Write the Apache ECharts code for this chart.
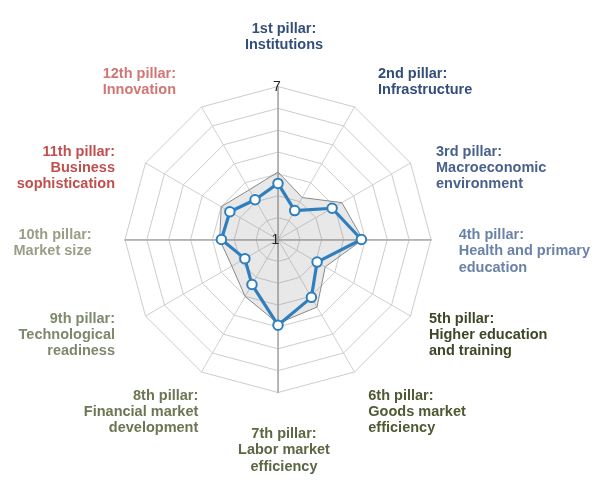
<!DOCTYPE html>
<html>
<head>
<meta charset="utf-8">
<script src="https://cdn.jsdelivr.net/npm/echarts@6/dist/echarts.min.js"></script>
<style>
html,body{margin:0;padding:0;background:#fff;}
#c{width:605px;height:484px;}
</style>
</head>
<body>
<div id="c"></div>
<script>
// ---- data ----
var categories = [
  "1st pillar:\nInstitutions",
  "2nd pillar:\nInfrastructure",
  "3rd pillar:\nMacroeconomic\nenvironment",
  "4th pillar:\nHealth and primary\neducation",
  "5th pillar:\nHigher education\nand training",
  "6th pillar:\nGoods market\nefficiency",
  "7th pillar:\nLabor market\nefficiency",
  "8th pillar:\nFinancial market\ndevelopment",
  "9th pillar:\nTechnological\nreadiness",
  "10th pillar:\nMarket size",
  "11th pillar:\nBusiness\nsophistication",
  "12th pillar:\nInnovation"
];
var countryValues   = [3.20, 2.31, 3.45, 4.27, 2.77, 3.62, 4.36, 3.04, 2.50, 3.22, 3.18, 2.80];
var referenceValues = [3.65, 2.90, 3.89, 4.33, 3.14, 4.06, 4.29, 3.58, 3.09, 3.29, 3.57, 3.25];
var scaleMin = 1, scaleMax = 7;
var tickLabels = ["7", "1"];
var ringCount = 7;

// ---- style / layout ----
var labelColors = ["#344e7b","#344e7b","#4a628b","#6b82a8","#3c4726","#4e5a32","#5c6743","#6c7652","#7e886b","#989f86","#c0504d","#d07674"];
var labelLayout = [
  [284, 29, "center"], [378, 73.5, "left"], [436, 151.5, "left"], [458.7, 235, "left"],
  [429, 318.5, "left"], [368.3, 395.5, "left"], [284, 434, "center"], [198.3, 395.5, "right"],
  [115, 318.5, "right"], [91.7, 235, "right"], [115, 151.5, "right"], [176, 73.5, "right"]
];
var CX = 278, CY = 239.5, R = 153;
var FONT = '"Liberation Sans", Arial, sans-serif';

// ECharts places indicators counter-clockwise; reorder to run clockwise.
function clockwise(arr) { return [arr[0]].concat(arr.slice(1).reverse()); }

var indicators = clockwise(categories).map(function (n) { return { name: n, min: scaleMin, max: scaleMax }; });

var graphics = categories.map(function (name, i) {
  return {
    type: 'text',
    x: labelLayout[i][0],
    y: labelLayout[i][1] - 8,
    style: {
      text: name,
      textAlign: labelLayout[i][2],
      textVerticalAlign: 'top',
      fontFamily: FONT,
      fontWeight: 'bold',
      fontSize: 14.5,
      lineHeight: 16.2,
      fill: labelColors[i]
    },
    z: 10
  };
});
graphics.push({
  type: 'text', x: CX - 1, y: CY - R + 0.5,
  style: { text: tickLabels[0], textAlign: 'center', textVerticalAlign: 'middle', fontFamily: FONT, fontSize: 14, fill: '#222' }, z: 10
});
graphics.push({
  type: 'text', x: CX - 2.5, y: CY + 0.5,
  style: { text: tickLabels[1], textAlign: 'center', textVerticalAlign: 'middle', fontFamily: FONT, fontSize: 14, fill: '#222' }, z: 10
});

var baseRadar = {
  center: [CX, CY],
  radius: R,
  shape: 'polygon',
  startAngle: 90,
  axisName: { show: false },
  axisLabel: { show: false },
  axisTick: { show: false },
  splitArea: { show: false }
};

var chart = echarts.init(document.getElementById('c'), null, { renderer: 'canvas' });
chart.setOption({
  backgroundColor: '#ffffff',
  animation: false,
  radar: [
    // data radar: light spokes only
    Object.assign({}, baseRadar, {
      indicator: indicators,
      splitNumber: ringCount,
      splitLine: { show: false },
      axisLine: { lineStyle: { color: '#d0d0d0', width: 1 } }
    }),
    // grid rings: 7 equal rings
    Object.assign({}, baseRadar, {
      indicator: categories.map(function () { return { name: '', min: 0, max: ringCount }; }),
      splitNumber: ringCount,
      splitLine: { lineStyle: { color: '#cdcdcd', width: 1 } },
      axisLine: { show: false }
    }),
    // main vertical/horizontal axes, darker
    Object.assign({}, baseRadar, {
      indicator: [0, 1, 2, 3].map(function () { return { name: '', min: 0, max: ringCount }; }),
      splitNumber: ringCount,
      splitLine: { show: false },
      axisLine: { lineStyle: { color: '#a9a9a9', width: 1.6 } }
    })
  ],
  series: [
    {
      type: 'radar',
      radarIndex: 0,
      z: 3,
      symbol: 'none',
      lineStyle: { color: '#8c8c8c', width: 1 },
      areaStyle: { color: 'rgba(120,120,120,0.17)', opacity: 1 },
      data: [{ value: clockwise(referenceValues) }]
    },
    {
      type: 'radar',
      radarIndex: 0,
      z: 4,
      symbol: 'circle',
      symbolSize: 9.5,
      lineStyle: { color: '#2f7fbf', width: 3.2 },
      itemStyle: { color: '#ffffff', borderColor: '#2f7fbf', borderWidth: 2 },
      data: [{ value: clockwise(countryValues) }]
    }
  ],
  graphic: graphics
});
</script>
</body>
</html>
